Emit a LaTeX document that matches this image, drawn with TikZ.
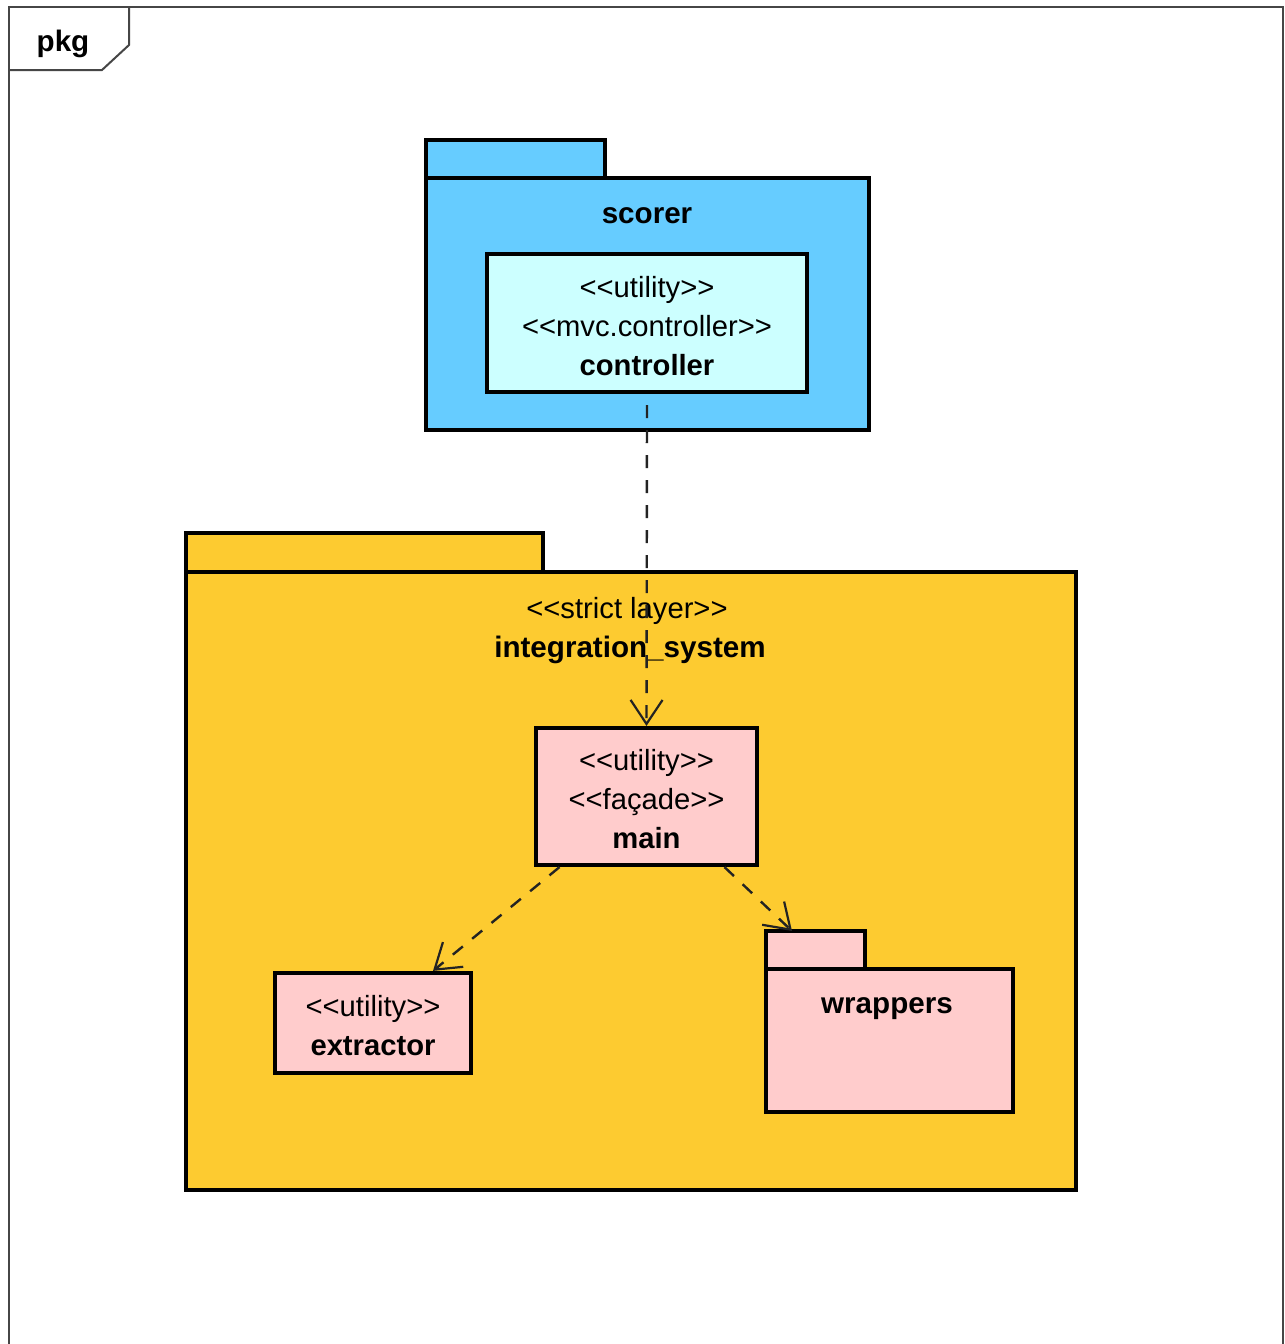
\documentclass[tikz,border=0pt]{standalone}
\usepackage{fontspec}
\setmainfont{Liberation Sans}
\usetikzlibrary{arrows.meta}
\definecolor{scorerblue}{RGB}{102,204,255}
\definecolor{ctrlcyan}{RGB}{204,255,255}
\definecolor{layeryellow}{RGB}{253,203,48}
\definecolor{classpink}{RGB}{255,204,204}
\definecolor{framegray}{RGB}{70,70,70}
\definecolor{depgray}{RGB}{35,35,35}
% stereotype brackets, kept apart so the font mapping does not merge them
\newcommand\stereo[1]{<\kern0pt<#1>\kern0pt>}
% centred lines of a class box, set a little below the box centre
\newcommand\classlines[1]{\raisebox{-2.8pt}[\height][\depth]{\begin{tabular}{@{}c@{}}#1\end{tabular}}}
\begin{document}
\begin{tikzpicture}[x=0.5pt,y=-0.5pt,
  font=\fontsize{14.6pt}{19.5pt}\selectfont,
  pkgshape/.style={draw=black,line width=2.1pt},
  classbox/.style={draw=black,line width=2.1pt,rectangle,inner sep=0pt},
  lbl/.style={inner sep=0pt,anchor=center},
  boldlbl/.style={lbl,font=\fontsize{14.8pt}{19.5pt}\selectfont\bfseries},
  dep/.style={draw=depgray,line width=1.2pt,dash pattern=on 6.5pt off 6pt,
    -{Straight Barb[length=12pt,width=16pt,line width=1.1pt]}}]
\useasboundingbox (0,0) rectangle (1285,1344);
\fill[white] (0,0) rectangle (1285,1344);

% outer frame with its name tab
\draw[framegray,line width=1pt] (9,1350) -- (9,7) -- (1283,7) -- (1283,1350);
\draw[framegray,line width=1pt] (9,70) -- (102,70) -- (129,45) -- (129,7);
\node[boldlbl] (pkgname) at (63,44) {pkg};

% scorer package
\draw[pkgshape,fill=scorerblue] (426,140) rectangle (605,178);
\draw[pkgshape,fill=scorerblue] (426,178) rectangle (869,430);
\node[boldlbl] (scorer) at (647,216) {scorer};
\node[classbox,fill=ctrlcyan,minimum width=160pt,minimum height=69pt] (controller) at (647,323)
  {\classlines{\stereo{utility}\\ \stereo{mvc.controller}\\ \textbf{controller}}};

% integration_system package
\draw[pkgshape,fill=layeryellow] (186,533) rectangle (543,572);
\draw[pkgshape,fill=layeryellow] (186,572) rectangle (1076,1190);
\node[lbl] (layerstereo) at (627,611) {\stereo{strict layer}};
\node[boldlbl] (integration) at (630,650) {integration\_system};

\node[classbox,fill=classpink,minimum width=110.5pt,minimum height=68.5pt] (main) at (646.5,796.5)
  {\classlines{\stereo{utility}\\ \stereo{façade}\\ \textbf{main}}};
\node[classbox,fill=classpink,minimum width=98pt,minimum height=50pt] (extractor) at (373,1023)
  {\classlines{\stereo{utility}\\ \textbf{extractor}}};

% wrappers package
\draw[pkgshape,fill=classpink] (766,931) rectangle (865,969);
\draw[pkgshape,fill=classpink] (766,969) rectangle (1013,1112);
\node[boldlbl] (wrappers) at (887,1009) {wrappers};
\coordinate (wraptop) at (792,931);

% dependencies
\coordinate (ctrlout) at (647,405);
\draw[dep] (ctrlout) -- (main.north);
\draw[dep] ([xshift=-43.5pt]main.south) -- ([xshift=30pt]extractor.north);
\draw[dep] ([xshift=39pt]main.south) -- (wraptop);
\end{tikzpicture}
\end{document}
